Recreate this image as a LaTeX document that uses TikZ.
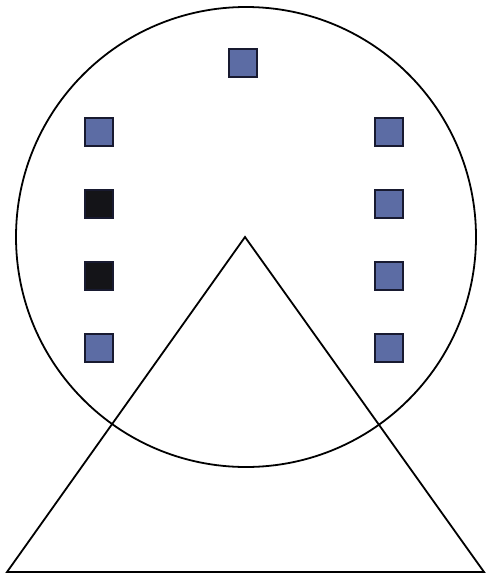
\documentclass[tikz,border=0pt]{standalone}
\usepackage{tikz}
\usetikzlibrary{positioning}
\definecolor{seatblue}{RGB}{92,108,164}
\definecolor{seatdark}{RGB}{20,20,24}
\definecolor{seatedge}{RGB}{24,26,48}

\begin{document}
\begin{tikzpicture}[x=1mm, y=-1mm, node distance=72mm,
    seat/.style={rectangle, draw=seatedge, line width=1.5mm, fill=seatblue, minimum size=28mm, inner sep=0pt},
    darkseat/.style={seat, fill=seatdark},
    frame/.style={draw, line width=1.8mm, line join=miter}]

    \useasboundingbox (0,0) rectangle (488,579);

    % wheel rim
    \node [circle, frame, minimum size=460mm, inner sep=0pt] (wheel) at (246,237) {};

    % seats
    \node [seat] (top) at (243,63) {};
    \node [seat] (l1) at (99,132) {};
    \node [darkseat, below of=l1] (l2) {};
    \node [darkseat, below of=l2] (l3) {};
    \node [seat, below of=l3] (l4) {};
    \node [seat] (r1) at (389,132) {};
    \node [seat, below of=r1] (r2) {};
    \node [seat, below of=r2] (r3) {};
    \node [seat, below of=r3] (r4) {};

    % stand
    \coordinate (apex) at (245,237);
    \coordinate (footl) at (7,572);
    \coordinate (footr) at (484,572);
    \draw [frame] (apex) -- (footl) -- (footr) -- cycle;
\end{tikzpicture}
\end{document}
